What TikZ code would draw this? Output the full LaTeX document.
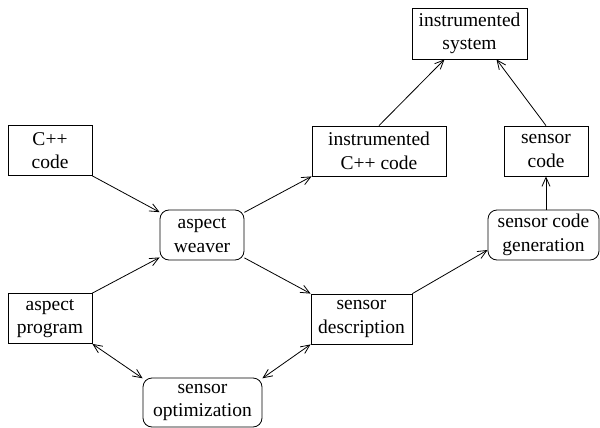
\documentclass[tikz,border=0pt]{standalone}
\usepackage{fontspec}
\setmainfont{Liberation Serif}
\usetikzlibrary{arrows.meta}
\begin{document}
\begin{tikzpicture}[x=1pt,y=-1pt,
  every node/.style={font=\fontsize{19.5}{23.5}\selectfont, align=center, inner sep=0pt, line width=0.8pt},
  sqbox/.style={draw, rectangle, minimum height=50pt},
  rdbox/.style={draw, rectangle, rounded corners=9pt, minimum height=50pt},
  conn/.style={line width=0.8pt, -{Straight Barb[length=9pt,width=8pt]}},
  bconn/.style={line width=0.8pt, {Straight Barb[length=9pt,width=8pt]}-{Straight Barb[length=9pt,width=8pt]}}]
\useasboundingbox (0,0) rectangle (600,428);
\node[sqbox, minimum width=84pt] (cpp) at (50,150.5) {C++\\code};
\node[rdbox, minimum width=84pt] (weaver) at (202,235) {aspect\\weaver};
\node[sqbox, minimum width=84pt] (prog) at (50,318.5) {aspect\\program};
\node[rdbox, minimum width=119pt, minimum height=49pt] (opt) at (202.5,402.5) {sensor\\optimization};
\node[sqbox, minimum width=101pt] (desc) at (361.5,319) {sensor\\description};
\node[sqbox, minimum width=134pt] (icpp) at (379,151) {instrumented\\C++ code};
\node[sqbox, minimum width=115pt, minimum height=51pt] (isys) at (469.5,33.5) {instrumented\\system};
\node[sqbox, minimum width=84pt] (scode) at (546,151) {sensor\\code};
\node[rdbox, minimum width=111pt] (gen) at (543.5,235) {sensor code\\generation};
\draw[conn] (cpp.south east) -- (weaver);
\draw[conn] (prog.north east) -- (weaver);
\draw[conn] (weaver) -- (icpp.south west);
\draw[conn] (weaver) -- (desc.north west);
\draw[bconn] (prog.south east) -- (opt.158);
\draw[bconn] (desc.south west) -- (opt.22);
\draw[conn] (desc.north east) -- (gen.195);
\draw[conn] (icpp.north) -- ([xshift=-25pt]isys.south);
\draw[conn] (scode.north) -- ([xshift=27pt]isys.south);
\draw[conn] (scode.south |- gen.north) -- (scode.south);
\end{tikzpicture}
\end{document}
